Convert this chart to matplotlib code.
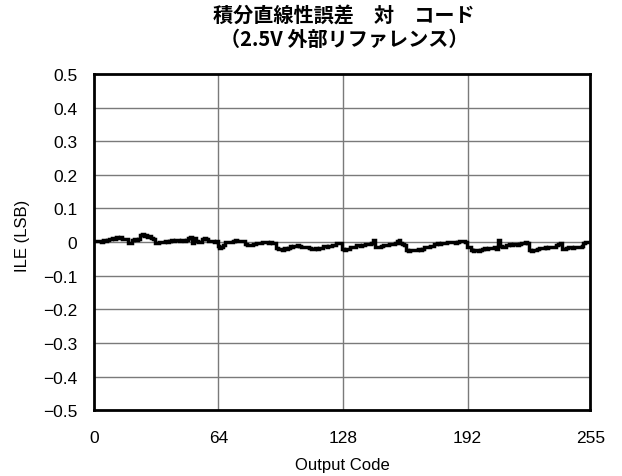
import numpy as np
import matplotlib
matplotlib.use("Agg")
import matplotlib.pyplot as plt

# Integral linearity error per output code (LSB), 8-bit DAC, 2.5 V external reference
ile_codes_0_63 = [
    0.003, 0.002, 0.004, 0.003, 0.001, 0.005, 0.003, 0.006,
    0.010, 0.009, 0.012, 0.008, 0.015, 0.011, 0.016, 0.010,
    0.010, 0.008, -0.004, -0.003, 0.007, 0.010, 0.006, 0.009,
    0.021, 0.024, 0.017, 0.020, 0.016, 0.019, 0.012, 0.009,
    -0.002, -0.004, 0.001, -0.001, 0.000, 0.002, 0.001, 0.004,
    0.005, 0.004, 0.006, 0.005, 0.004, 0.006, 0.005, 0.004,
    0.006, 0.012, 0.014, -0.004, 0.013, 0.003, 0.001, -0.001,
    0.008, 0.011, 0.009, 0.004, 0.002, 0.004, 0.001, 0.003,
]
ile_codes_64_127 = [
    -0.012, -0.018, -0.014, -0.009, 0.000, -0.001, 0.001, 0.000,
    0.003, 0.005, 0.004, 0.002, 0.003, 0.004, -0.006, -0.009,
    -0.008, -0.010, -0.007, -0.006, -0.003, -0.002, -0.003, -0.001,
    -0.001, 0.000, -0.002, -0.001, -0.002, -0.003, -0.018, -0.022,
    -0.020, -0.024, -0.017, -0.021, -0.019, -0.012, -0.014, -0.011,
    -0.013, -0.010, -0.012, -0.014, -0.015, -0.016, -0.014, -0.019,
    -0.020, -0.021, -0.019, -0.020, -0.018, -0.017, -0.013, -0.012,
    -0.014, -0.011, -0.013, -0.010, -0.009, -0.004, -0.003, -0.002,
]
ile_codes_128_191 = [
    -0.022, -0.024, -0.020, -0.021, -0.016, -0.015, -0.014, -0.010,
    -0.009, -0.011, -0.008, -0.010, -0.006, -0.005, -0.006, -0.004,
    0.007, -0.014, -0.016, -0.015, -0.013, -0.009, -0.008, -0.010,
    -0.007, -0.006, -0.005, -0.004, 0.004, 0.006, -0.003, -0.005,
    -0.010, -0.024, -0.026, -0.025, -0.024, -0.023, -0.025, -0.022,
    -0.024, -0.021, -0.016, -0.014, -0.015, -0.013, -0.012, -0.006,
    -0.005, -0.004, -0.006, -0.003, -0.004, -0.002, 0.000, -0.001,
    0.001, 0.000, -0.002, 0.001, 0.003, 0.002, 0.004, 0.001,
]
ile_codes_192_255 = [
    -0.014, -0.016, -0.024, -0.026, -0.025, -0.024, -0.026, -0.023,
    -0.021, -0.019, -0.020, -0.018, -0.019, -0.017, -0.015, -0.020,
    0.007, -0.013, -0.016, -0.014, -0.008, -0.010, -0.006, -0.009,
    -0.007, -0.005, -0.008, -0.006, -0.004, -0.002, -0.001, -0.003,
    -0.024, -0.026, -0.023, -0.025, -0.020, -0.018, -0.019, -0.017,
    -0.016, -0.018, -0.015, -0.016, -0.014, -0.015, -0.010, -0.005,
    -0.002, -0.020, -0.022, -0.019, -0.016, -0.015, -0.017, -0.016,
    -0.014, -0.015, -0.016, -0.013, -0.004, -0.001, 0.000, 0.001,
]

x_ticks = [0, 64, 128, 192, 255]
y_ticks = [-0.5, -0.4, -0.3, -0.2, -0.1, 0.0, 0.1, 0.2, 0.3, 0.4, 0.5]
y_tick_labels = ["\u22120.5", "\u22120.4", "\u22120.3", "\u22120.2", "\u22120.1",
                 "0", "0.1", "0.2", "0.3", "0.4", "0.5"]

title_text = "積分直線性誤差　対　コード\n（2.5V 外部リファレンス）"
x_label = "Output Code"
y_label = "ILE (LSB)"

ile = np.array(ile_codes_0_63 + ile_codes_64_127 + ile_codes_128_191 + ile_codes_192_255)
codes = np.arange(len(ile))

plt.rcParams["font.family"] = ["Liberation Sans", "DejaVu Sans"]

fig = plt.figure(figsize=(6.22, 4.77), dpi=100)
ax = fig.add_axes([0.151, 0.138, 0.798, 0.705])

ax.set_xlim(0, 255)
ax.set_ylim(-0.5, 0.5)
ax.set_xticks(x_ticks)
ax.set_xticklabels([str(t) for t in x_ticks])
ax.set_yticks(y_ticks)
ax.set_yticklabels(y_tick_labels)
ax.tick_params(length=0, labelsize=12.5)
ax.tick_params(axis="x", pad=14)
ax.tick_params(axis="y", pad=12)

for xv in x_ticks[1:-1]:
    ax.axvline(xv, color="#7a7a7a", lw=1.0, zorder=1)
for yv in y_ticks[1:-1]:
    ax.axhline(yv, color="#7a7a7a", lw=1.0, zorder=1)

ax.plot(codes, ile, color="black", lw=2.5, drawstyle="steps-mid",
        solid_joinstyle="miter", zorder=3)

for s in ax.spines.values():
    s.set_linewidth(2.0)
    s.set_color("black")

ax.set_xlabel(x_label, fontsize=12, labelpad=9)
ax.set_ylabel(y_label, fontsize=12)
ax.yaxis.set_label_coords(-0.128, 0.52)

fig.text(0.553, 0.99, title_text, ha="center", va="top", fontsize=14.5,
         fontweight="bold", linespacing=1.2,
         family=["Noto Sans CJK JP", "DejaVu Sans"])

fig.savefig("out.png", dpi=100)
